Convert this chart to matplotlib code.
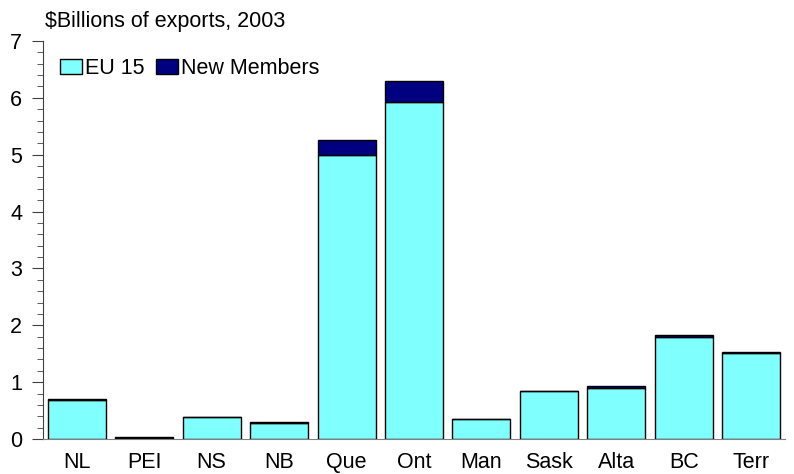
import matplotlib.pyplot as plt
import numpy as np

plt.rcParams['font.family'] = ['Liberation Sans', 'DejaVu Sans']

provinces = ["NL", "PEI", "NS", "NB", "Que", "Ont", "Man", "Sask", "Alta", "BC", "Terr"]
eu15 = [0.69, 0.02, 0.38, 0.29, 4.99, 5.93, 0.35, 0.84, 0.90, 1.80, 1.52]
new_members = [0.01, 0.01, 0.01, 0.01, 0.27, 0.37, 0.01, 0.01, 0.04, 0.03, 0.01]

fig = plt.figure(figsize=(7.94, 4.74), dpi=100)
ax = fig.add_axes([0.0541, 0.0738, 0.9346, 0.8397])

x = np.arange(len(provinces))
ax.bar(x, eu15, width=0.86, color="#80FFFF", edgecolor="black", linewidth=1, label="EU 15")
ax.bar(x, new_members, width=0.86, bottom=eu15, color="#000080", edgecolor="black", linewidth=1, label="New Members")

ax.set_xlim(-0.5, len(provinces) - 0.5)
ax.set_ylim(0, 7)
ax.set_yticks(range(8))
ax.set_yticks(np.arange(0, 7.01, 0.2), minor=True)
ax.set_xticks(x)
ax.set_xticklabels(provinces)

for s in ["top", "right"]:
    ax.spines[s].set_visible(False)
ax.spines["left"].set_color("#404040")
ax.spines["bottom"].set_color("#808080")
ax.tick_params(axis="y", which="major", length=8, color="#404040", labelsize=15.5, pad=7)
ax.tick_params(axis="y", which="minor", length=4, color="#404040")
ax.tick_params(axis="x", length=0, labelsize=15.5, pad=9)

ax.text(0.003, 1.022, "\\$Billions of exports, 2003", transform=ax.transAxes, fontsize=15.5, va="bottom", ha="left")

ax.legend(loc="upper left", bbox_to_anchor=(0.006, 0.99), ncol=2, frameon=False, fontsize=15.5,
          handlelength=1.0, handleheight=0.7, handletextpad=0.15, columnspacing=0.55, borderaxespad=0.2)

fig.savefig("out.png", dpi=100)
